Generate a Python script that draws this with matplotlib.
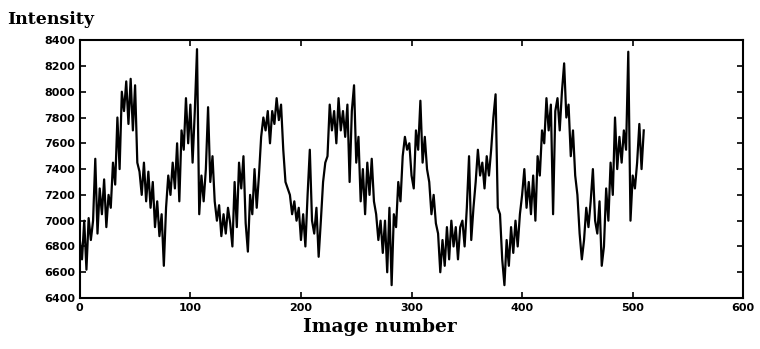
import matplotlib.pyplot as plt
import numpy as np

intensity = [
    6850, 6700, 7000, 6620, 7020, 6850, 7000, 7480,
    6900, 7250, 7050, 7320, 6950, 7200, 7100, 7450, 7280,
    7800, 7400, 8000, 7850, 8080, 7750, 8100, 7700, 8050, 7450,
    7380, 7200, 7450, 7150, 7380, 7100, 7300,
    6950, 7150, 6880, 7050, 6650, 7100,
    7350, 7200, 7450, 7250, 7600, 7150,
    7700, 7550, 7950, 7600, 7900, 7450, 7850, 8330, 7050,
    7350, 7150, 7400, 7880, 7300, 7500, 7150,
    7000, 7120, 6880, 7050, 6900, 7100,
    6980, 6800, 7300, 6950, 7450, 7250, 7500,
    6980, 6760, 7200, 7050, 7400, 7100, 7350,
    7650, 7800, 7700, 7850, 7600,
    7850, 7750, 7950, 7780, 7900, 7550, 7300, 7250,
    7200, 7050, 7150, 7000, 7100, 6850, 7050, 6800,
    7200, 7550, 7000, 6900, 7100, 6720, 7000,
    7300, 7450, 7500, 7900, 7700, 7850, 7600,
    7950, 7700, 7850, 7650, 7900, 7300, 7850, 8050,
    7450, 7650, 7150, 7400, 7050, 7450, 7200, 7480, 7150,
    7050, 6850, 7000, 6750, 7000, 6600, 7100, 6500,
    7050, 6950, 7300, 7150, 7500, 7650, 7550, 7600,
    7350, 7250, 7700, 7550, 7930, 7450, 7650, 7400,
    7300, 7050, 7200, 6980, 6900, 6600, 6850, 6650, 6950,
    6700, 7000, 6800, 6950, 6700, 6950,
    7000, 6800, 7100, 7500, 6850, 7100,
    7300, 7550, 7350, 7450, 7250, 7500, 7350, 7550,
    7800, 7980, 7100, 7050, 6700, 6500, 6850,
    6650, 6950, 6750, 7000, 6800, 7050, 7200, 7400, 7100,
    7300, 7050, 7350, 7000, 7500, 7350, 7700, 7600, 7950, 7700,
    7900, 7050, 7850, 7950, 7700, 8000, 8220,
    7800, 7900, 7500, 7700, 7350, 7200, 6900, 6700, 6850,
    7100, 6950, 7150, 7400, 7000, 6900, 7150, 6650, 6800,
    7250, 7000, 7450, 7200, 7800, 7400,
    7650, 7450, 7700, 7550, 8310, 7000,
    7350, 7250, 7450, 7750, 7400, 7700,
]
image = np.arange(len(intensity)) * 2

xticks = [0, 100, 200, 300, 400, 500, 600]
yticks = [6400, 6600, 6800, 7000, 7200, 7400, 7600, 7800, 8000, 8200, 8400]

fig = plt.figure(figsize=(7.6, 3.49), dpi=100)
ax = fig.add_axes([0.105, 0.146, 0.873, 0.739])

ax.plot(image, intensity, color='black', linewidth=1.6)

ax.set_xlim(0, 600)
ax.set_ylim(6400, 8400)
ax.set_xticks(xticks)
ax.set_yticks(yticks)
ax.tick_params(direction='in', length=4, width=1.2, top=True, right=True,
               labelsize=8)
for lab in ax.get_xticklabels() + ax.get_yticklabels():
    lab.set_fontweight('bold')
for s in ax.spines.values():
    s.set_linewidth(1.5)

fig.text(0.01, 0.93, 'Intensity', family='DejaVu Serif', fontweight='bold',
         fontsize=12.5)
fig.text(0.5, 0.05, 'Image number', family='DejaVu Serif', fontweight='bold',
         fontsize=13.5, ha='center')

fig.savefig('out.png', dpi=100)
